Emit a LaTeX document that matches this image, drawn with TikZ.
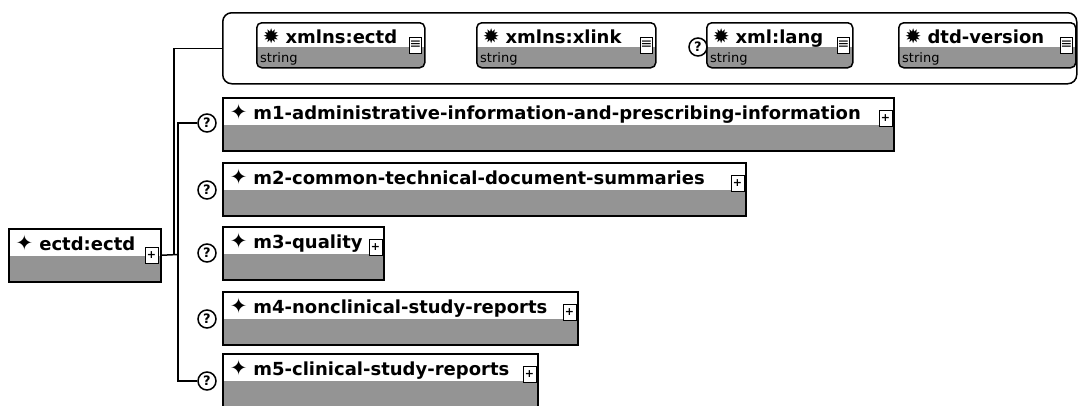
\documentclass[tikz,border=0pt]{standalone}
\usepackage{fontspec}
\setmainfont{DejaVu Sans}
\definecolor{hatch}{gray}{0.58}
\begin{document}
\begin{tikzpicture}[x=1pt, y=-1pt,
                elem/.style={draw, line width=1.5pt, anchor=north west, inner xsep=7pt, inner ysep=0pt,
                    text height=22pt, text depth=31pt, font=\bfseries\fontsize{18}{18}\selectfont,
                    path picture={\fill[hatch] (path picture bounding box.south west)
                        rectangle ([yshift=26pt]path picture bounding box.south east);}},
                attr/.style={draw, line width=1.5pt, rounded corners=5pt, anchor=north west, inner xsep=6pt, inner ysep=0pt,
                    text height=21pt, text depth=24pt, font=\bfseries\fontsize{18}{18}\selectfont,
                    path picture={\fill[hatch, sharp corners] (path picture bounding box.south west)
                        rectangle ([yshift=21pt]path picture bounding box.south east);}},
                grp/.style={draw, line width=1.5pt, rounded corners=9pt, anchor=north west, minimum width=854pt, minimum height=71pt},
                typ/.style={anchor=south west, inner sep=1pt, font=\fontsize{13}{13}\selectfont},
                expand/.style={draw, line width=1pt, fill=white, minimum width=13pt, minimum height=16pt, inner sep=0pt,
                    font=\bfseries\fontsize{11}{11}\selectfont},
                lst/.style={draw, line width=1pt, fill=white, minimum width=12pt, minimum height=16pt, inner sep=0pt,
                    font=\fontsize{14}{14}\selectfont},
                opt/.style={shape=circle, draw, line width=1.5pt, fill=white, minimum size=18pt, inner sep=0pt,
                    font=\bfseries\fontsize{13}{13}\selectfont},
                conn/.style={line width=1.5pt},
            ]
            \useasboundingbox (0,0) rectangle (1078,405);

            % root element
            \node[elem, text width=138pt] (ectd) at (8,228) {{\mdseries\fontsize{21}{18}\selectfont ✦} ectd:ectd};
            \node[expand] (ectdx) at ([xshift=-10pt,yshift=-27pt]ectd.north east) {+};

            % attributes
            \node[grp] (attrs) at (222,12) {};
            \node[attr, text width=156pt] (a1) at (256,22) {{\mdseries\fontsize{20}{18}\selectfont ✹} xmlns:ectd};
            \node[attr, text width=167pt] (a2) at (476,22) {{\mdseries\fontsize{20}{18}\selectfont ✹} xmlns:xlink};
            \node[attr, text width=134pt] (a3) at (706,22) {{\mdseries\fontsize{20}{18}\selectfont ✹} xml:lang};
            \node[attr, text width=165pt] (a4) at (898,22) {{\mdseries\fontsize{20}{18}\selectfont ✹} dtd-version};
            \node[opt] (qa) at (698,47) {?};
            \node[typ] (a1s) at ([xshift=3pt,yshift=2pt]a1.south west) {string};
            \node[typ] (a2s) at ([xshift=3pt,yshift=2pt]a2.south west) {string};
            \node[typ] (a3s) at ([xshift=3pt,yshift=2pt]a3.south west) {string};
            \node[typ] (a4s) at ([xshift=3pt,yshift=2pt]a4.south west) {string};
            \node[lst] (a1l) at ([xshift=-10pt,yshift=-23pt]a1.north east) {≡};
            \node[lst] (a2l) at ([xshift=-10pt,yshift=-23pt]a2.north east) {≡};
            \node[lst] (a3l) at ([xshift=-10pt,yshift=-23pt]a3.north east) {≡};
            \node[lst] (a4l) at ([xshift=-10pt,yshift=-23pt]a4.north east) {≡};

            % child elements
            \node[elem, text width=657pt] (m1) at (222,97) {{\mdseries\fontsize{21}{18}\selectfont ✦} m1-administrative-information-and-prescribing-information};
            \node[elem, text width=509pt] (m2) at (222,162) {{\mdseries\fontsize{21}{18}\selectfont ✦} m2-common-technical-document-summaries};
            \node[elem, text width=147pt] (m3) at (222,226) {{\mdseries\fontsize{21}{18}\selectfont ✦} m3-quality};
            \node[elem, text width=341pt] (m4) at (222,291) {{\mdseries\fontsize{21}{18}\selectfont ✦} m4-nonclinical-study-reports};
            \node[elem, text width=301pt] (m5) at (222,353) {{\mdseries\fontsize{21}{18}\selectfont ✦} m5-clinical-study-reports};
            \node[expand] (m1x) at ([xshift=-9pt,yshift=-21pt]m1.north east) {+};
            \node[expand] (m2x) at ([xshift=-9pt,yshift=-21pt]m2.north east) {+};
            \node[expand] (m3x) at ([xshift=-9pt,yshift=-21pt]m3.north east) {+};
            \node[expand] (m4x) at ([xshift=-9pt,yshift=-21pt]m4.north east) {+};
            \node[expand] (m5x) at ([xshift=-9pt,yshift=-21pt]m5.north east) {+};
            \node[opt] (q1) at (207,123) {?};
            \node[opt] (q2) at (207,190) {?};
            \node[opt] (q3) at (207,253) {?};
            \node[opt] (q4) at (207,319) {?};
            \node[opt] (q5) at (207,381) {?};

            \coordinate (jn) at (174,254.5);
            \coordinate (jc) at (178,254.5);
            \draw[conn] (ectd.east) -- (jc);
            \draw[conn] (jn) |- (attrs.west);
            \draw[conn] (q1.west) -| (jc) |- (q5.west);
        \end{tikzpicture}
\end{document}
